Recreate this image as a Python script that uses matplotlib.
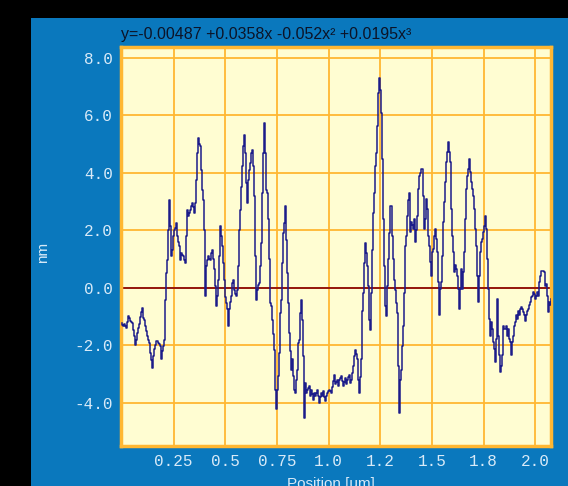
import numpy as np
import matplotlib
matplotlib.use("Agg")
import matplotlib.pyplot as plt
from matplotlib.patches import Rectangle

# profile height along the scan line, one sample per pixel column
STEP_UM = 0.00484
height_nm = [
    # 0.00 - 0.70 um
    -1.22, -1.28, -1.33, -1.27, -1.33, -1.39, -1.20, -0.98, -1.05, -1.16,
    -1.20, -1.22, -1.45, -1.68, -1.97, -1.80, -1.56, -1.40, -1.27, -1.00,
    -0.85, -0.70, -1.04, -1.10, -1.33, -1.50, -1.68, -1.80, -1.91, -2.26,
    -2.50, -2.78, -2.38, -2.14, -2.00, -1.85, -1.85, -1.91, -1.95, -2.03,
    -2.49, -2.20, -2.03, -1.80, -0.41, 0.52, 0.98, 2.03, 3.07, 2.14,
    1.10, 1.33, 1.80, 2.03, 2.09, 2.26, 1.80, 1.60, 1.45, 0.98,
    1.22, 1.15, 1.10, 0.98, 0.87, 1.80, 2.72, 2.49, 2.60, 2.72,
    2.84, 2.95, 2.80, 2.61, 2.95, 3.77, 4.69, 5.21, 5.00, 4.92,
    4.11, 3.40, 3.07, 2.03, -0.29, 0.75, 0.98, 1.10, 1.00, 0.98,
    1.22, 1.33, 1.00, 0.64, 0.06, -0.64, -0.29, 0.29, 1.10, 2.14,
    1.80, 1.45, 0.87, 0.29, -0.30, -0.52, -0.75, -1.33, -0.75, -0.50,
    -0.29, 0.17, 0.29, -0.06, -0.20, -0.29, -0.06, 0.75, 2.03, 2.70,
    3.50, 4.23, 4.92, 5.33, 4.69, 3.65, 2.95, 3.77, 4.10, 4.35,
    4.69, 4.81, 4.23, 3.19, 1.10, -0.41, -0.06, 0.10, 0.17, 0.75,
    1.56, 3.30, 4.69, 5.74, 4.69, 3.42,
    # 0.70 - 1.39 um
    3.31, 2.38, 0.99, -0.52, -0.64, -1.10, -1.60, -2.15, -3.54, -4.23,
    -3.54, -3.07, -2.26, -0.87, -0.41, 0.87, 1.91, 2.26, 2.84, 1.68,
    0.52, -0.52, -1.57, -2.20, -2.84, -2.49, -3.07, -3.54, -3.65, -3.19,
    -2.84, -1.91, -1.80, -0.87, -0.41, -1.10, -2.38, -4.52, -3.31, -3.65,
    -3.54, -3.48, -3.42, -3.77, -3.54, -3.70, -3.89, -3.65, -3.77, -3.65,
    -3.54, -3.77, -4.00, -3.80, -3.65, -3.77, -3.60, -3.80, -3.94, -3.77,
    -3.65, -3.60, -3.54, -3.60, -3.65, -3.45, -3.25, -3.02, -3.36, -3.27,
    -3.19, -3.42, -3.19, -3.13, -3.07, -3.25, -3.42, -3.27, -3.13, -3.36,
    -3.19, -3.10, -3.02, -3.31, -3.19, -2.95, -2.73, -2.38, -2.15, -2.30,
    -2.49, -3.19, -3.65, -3.10, -2.49, -0.80, -0.17, 0.87, 1.57, 1.22,
    0.75, 0.06, -1.10, -1.45, -0.17, 1.33, 2.61, 3.31, 4.23, 4.70,
    5.63, 6.79, 7.31, 6.90, 6.09, 4.47, 2.38, 0.75, -0.64, -0.99,
    0.06, 0.99, 1.91, 2.84, 2.84, 1.80, 0.99, 0.29, -0.06, -0.52,
    -0.87, -2.73, -4.35, -3.19, -2.84, -2.03, -1.33, -0.17, 1.45, 1.80,
    2.49, 3.07, 3.31,
    # 1.39 - 2.08 um
    1.94, 2.28, 2.20, 2.05, 2.40, 1.59, 2.00, 2.51, 3.44, 3.90,
    4.00, 4.14, 3.21, 2.05, 2.40, 3.09, 2.75, 1.82, 1.47, 0.89,
    0.43, 1.24, 1.36, 1.82, 2.05, 1.70, 1.24, 0.20, -0.96, -0.03,
    0.20, 1.12, 2.28, 2.98, 3.67, 4.37, 4.72, 5.06, 4.72, 4.37,
    2.75, 1.82, 1.24, 0.54, 0.78, 0.66, 0.43, -0.03, -0.73, -0.03,
    0.66, -0.03, 0.54, 1.24, 2.40, 3.44, 3.90, 4.14, 4.48, 4.02,
    3.67, 3.44, 3.21, 2.75, 2.05, 1.47, 0.43, -0.50, 0.43, 1.24,
    1.59, 1.70, 1.94, 2.17, 2.51, 2.05, 1.01, -0.03, -1.08, -1.66,
    -1.19, -1.43, -1.89, -2.12, -2.58, -1.77, -0.38, -1.66, -2.35, -2.93,
    -2.70, -2.35, -1.31, -1.43, -1.43, -1.31, -1.66, -1.43, -1.77, -1.89,
    -2.35, -1.89, -1.66, -1.31, -1.19, -0.96, -1.08, -0.79, -0.96, -0.73,
    -0.67, -0.73, -0.85, -0.96, -1.14, -0.96, -0.79, -0.73, -0.61, -0.50,
    -0.32, -0.27, -0.13, -0.21, -0.38, -0.27, -0.15, -0.27, 0.20, 0.43,
    0.60, 0.60, 0.60, 0.54, 0.08, 0.14, -0.27, -0.85, -0.50, -0.61,
    -0.38,
]
position_um = np.arange(len(height_nm)) * STEP_UM

fit_text = 'y=-0.00487 +0.0358x -0.052x² +0.0195x³'
xtick_vals = [0.25, 0.5, 0.75, 1.0, 1.25, 1.5, 1.75, 2.0]
xtick_labels = ['0.25', '0.5', '0.75', '1.0', '1.2', '1.5', '1.8', '2.0']
ytick_vals = [-4, -2, 0, 2, 4, 6, 8]
ytick_labels = ['-4.0', '-2.0', '0.0', '2.0', '4.0', '6.0', '8.0']

PANEL = '#0a78bd'
GRID = '#ffb732'
LIGHT = '#d8eaf8'

fig = plt.figure(figsize=(5.68, 4.86), dpi=100, facecolor='black')
fig.patches.append(Rectangle((31 / 568, 0), 1 - 31 / 568, 1 - 18 / 486,
                             transform=fig.transFigure, facecolor=PANEL,
                             edgecolor='none', zorder=-10))

ax = fig.add_axes([121 / 568, 40 / 486, 430 / 568, 399 / 486])
ax.set_zorder(1)
ax.set_facecolor('#fffdd2')
ax.plot(position_um, height_nm, color='#1c1c8a', lw=1.1, drawstyle='steps-mid', zorder=3)
ax.axhline(0, color='#8b0a0a', lw=1.3, zorder=2)

ax.set_xlim(-0.004, 2.076)
ax.set_ylim(-5.5, 8.38)
ax.set_xticks(xtick_vals)
ax.set_xticklabels(xtick_labels)
ax.set_yticks(ytick_vals)
ax.set_yticklabels(ytick_labels)
ax.grid(True, color=GRID, lw=1.3, zorder=1)
ax.set_axisbelow(True)
for s in ax.spines.values():
    s.set_color(GRID)
    s.set_linewidth(2.5)
ax.tick_params(length=0, colors=LIGHT)
ax.tick_params(axis='x', pad=6)
ax.tick_params(axis='y', pad=6)
for lab in ax.get_xticklabels() + ax.get_yticklabels():
    lab.set_fontfamily('Liberation Mono')
    lab.set_fontsize(11.5)
    lab.set_color(LIGHT)

fig.text(121 / 568, 1 - 34 / 486, fit_text, ha='left', va='center',
         fontsize=11.5, family='Liberation Sans', color='#0c1428')
fig.text(43 / 568, 1 - 252 / 486, 'nm', rotation=90, ha='center', va='center',
         fontsize=11, family='Liberation Sans', color=LIGHT)
fig.text(331 / 568, 1 - 477 / 486, 'Position [um]', ha='center', va='top',
         fontsize=11, family='Liberation Sans', color=LIGHT)

fig.savefig('out.png', dpi=100, facecolor=fig.get_facecolor())
